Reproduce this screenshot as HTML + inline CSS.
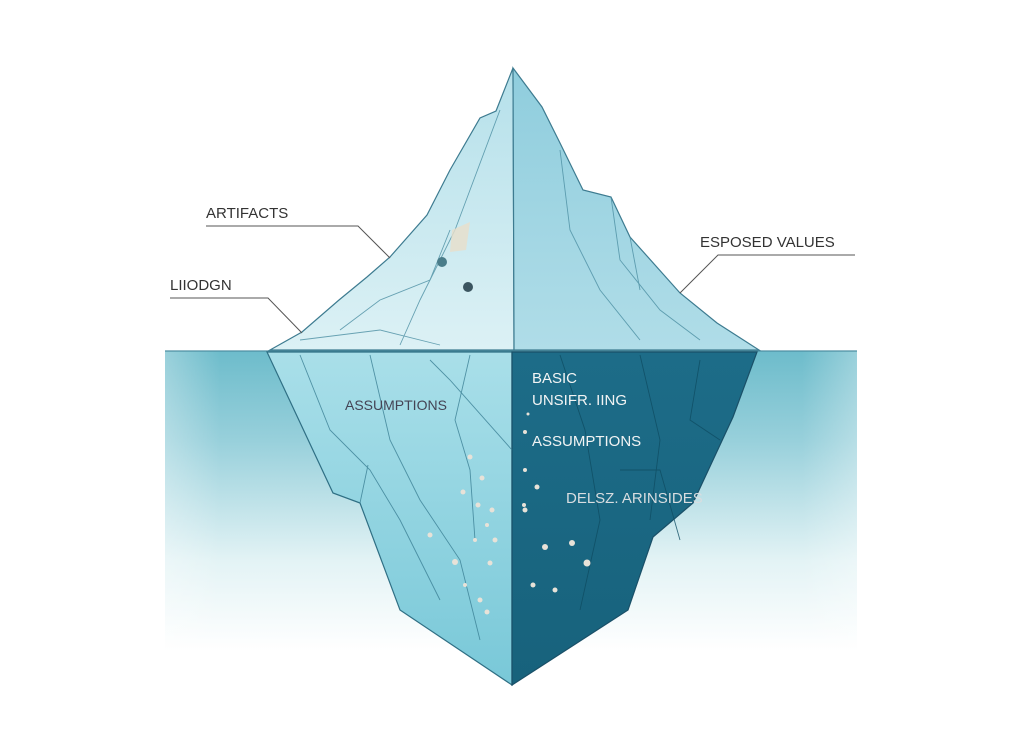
<!DOCTYPE html>
<html><head><meta charset="utf-8"><style>
html,body{margin:0;padding:0;background:#fff;}
svg{display:block;}
text{font-family:"Liberation Sans",sans-serif;}
</style></head><body>
<svg width="1024" height="754" viewBox="0 0 1024 754" xmlns="http://www.w3.org/2000/svg">
<defs>
<linearGradient id="water" x1="0" y1="0" x2="0" y2="1">
<stop offset="0" stop-color="#6dbccb"/>
<stop offset="0.3" stop-color="#98d0db"/>
<stop offset="0.7" stop-color="#e3f3f5"/>
<stop offset="1" stop-color="#ffffff"/>
</linearGradient>
<linearGradient id="hfade" x1="0" y1="0" x2="1" y2="0">
<stop offset="0" stop-color="#fff" stop-opacity="0.3"/>
<stop offset="0.08" stop-color="#fff" stop-opacity="0"/>
<stop offset="0.92" stop-color="#fff" stop-opacity="0"/>
<stop offset="1" stop-color="#fff" stop-opacity="0.3"/>
</linearGradient>
<linearGradient id="light" x1="0" y1="0" x2="0" y2="1">
<stop offset="0" stop-color="#a9dfe9"/>
<stop offset="1" stop-color="#79c8d8"/>
</linearGradient>
<linearGradient id="dark" x1="0" y1="0" x2="0" y2="1">
<stop offset="0" stop-color="#1d6c88"/>
<stop offset="1" stop-color="#17627c"/>
</linearGradient>
<linearGradient id="topL" x1="0" y1="0" x2="0" y2="1">
<stop offset="0" stop-color="#b5e0ea"/>
<stop offset="1" stop-color="#dcf1f5"/>
</linearGradient>
<linearGradient id="topR" x1="0" y1="0" x2="0" y2="1">
<stop offset="0" stop-color="#8fcddd"/>
<stop offset="1" stop-color="#b0dde8"/>
</linearGradient>
</defs>
<rect x="165" y="351" width="692" height="300" fill="url(#water)"/>
<rect x="165" y="351" width="692" height="300" fill="url(#hfade)"/>
<line x1="165" y1="351" x2="857" y2="351" stroke="#4e8fa2" stroke-width="1.2"/>
<polygon points="267,352 512,352 512,685 400,610 360,503 333,493" fill="url(#light)" stroke="#2f6f84" stroke-width="1.2"/>
<polygon points="512,352 757,352 733,417 693,503 653,537 628,610 512,685" fill="url(#dark)" stroke="#1a5068" stroke-width="1.2"/>
<g stroke="#3a7f94" stroke-width="0.9" fill="none" opacity="0.8">
<path d="M300,355 L330,430 L370,470 L400,520 L440,600"/>
<path d="M370,355 L390,440 L420,500 L460,560 L480,640"/>
<path d="M470,355 L455,420 L470,470 L475,540"/>
<path d="M368,465 L360,503"/>
<path d="M430,360 L450,380 L512,450"/>
</g>
<g stroke="#0f4d63" stroke-width="0.9" fill="none" opacity="0.8">
<path d="M560,355 L585,430 L600,520 L580,610"/>
<path d="M640,355 L660,440 L650,520"/>
<path d="M700,360 L690,420 L720,440"/>
<path d="M620,470 L660,470 L680,540"/>
</g>
<g fill="#e8e2d8">
<circle cx="470" cy="457" r="2.5"/><circle cx="482" cy="478" r="2.5"/><circle cx="463" cy="492" r="2.5"/>
<circle cx="478" cy="505" r="2.5"/><circle cx="492" cy="510" r="2.5"/><circle cx="487" cy="525" r="2"/>
<circle cx="430" cy="535" r="2.5"/><circle cx="475" cy="540" r="2"/><circle cx="495" cy="540" r="2.5"/>
<circle cx="455" cy="562" r="3"/><circle cx="490" cy="563" r="2.5"/><circle cx="465" cy="585" r="2"/>
<circle cx="480" cy="600" r="2.5"/><circle cx="487" cy="612" r="2.5"/>
<circle cx="525" cy="470" r="2"/><circle cx="537" cy="487" r="2.5"/><circle cx="525" cy="510" r="2.5"/>
<circle cx="545" cy="547" r="3"/><circle cx="572" cy="543" r="3"/><circle cx="587" cy="563" r="3.5"/>
<circle cx="524" cy="505" r="2"/><circle cx="533" cy="585" r="2.5"/><circle cx="555" cy="590" r="2.5"/>
<circle cx="528" cy="414" r="1.5"/><circle cx="525" cy="432" r="2"/>
</g>
<polygon points="513,68 496,111 480,118 450,170 427,215 390,257 367,277 339,300 302,332 270,350 514,350 514,340" fill="url(#topL)" stroke="#3d7b90" stroke-width="1.2"/>
<polygon points="513,68 542,107 560,143 583,190 611,197 630,237 680,293 717,323 759,350 514,350 514,340" fill="url(#topR)" stroke="#3d7b90" stroke-width="1.2"/>
<g stroke="#4b8ea2" stroke-width="0.9" fill="none" opacity="0.8">
<path d="M500,110 L470,190 L455,230 L420,300 L400,345"/>
<path d="M450,230 L430,280 L380,300 L340,330"/>
<path d="M560,150 L570,230 L600,290 L640,340"/>
<path d="M611,197 L620,260 L660,310 L700,340"/>
<path d="M630,237 L640,290"/>
<path d="M300,340 L380,330 L440,345"/>
</g>
<polygon points="452,230 470,222 466,250 450,252" fill="#e9dfcb" opacity="0.8"/>
<circle cx="442" cy="262" r="5" fill="#4a7d8a"/><circle cx="468" cy="287" r="5" fill="#3b5560"/>
<g stroke="#555" stroke-width="1" fill="none">
<polyline points="206,226 358,226 390,258"/>
<polyline points="170,298 268,298 302,333"/>
<polyline points="855,255 718,255 680,293"/>
</g>
<g fill="#333" font-size="15">
<text x="206" y="218">ARTIFACTS</text>
<text x="170" y="290">LIIODGN</text>
<text x="700" y="247">ESPOSED VALUES</text>
</g>
<text x="345" y="410" font-size="14" fill="#445">ASSUMPTIONS</text>
<g fill="#f2f4f4" font-size="15">
<text x="532" y="383">BASIC</text>
<text x="532" y="405">UNSIFR. IING</text>
<text x="532" y="446">ASSUMPTIONS</text>
<text x="566" y="503" fill="#d8dde0">DELSZ. ARINSIDES</text>
</g>
</svg>
</body></html>
